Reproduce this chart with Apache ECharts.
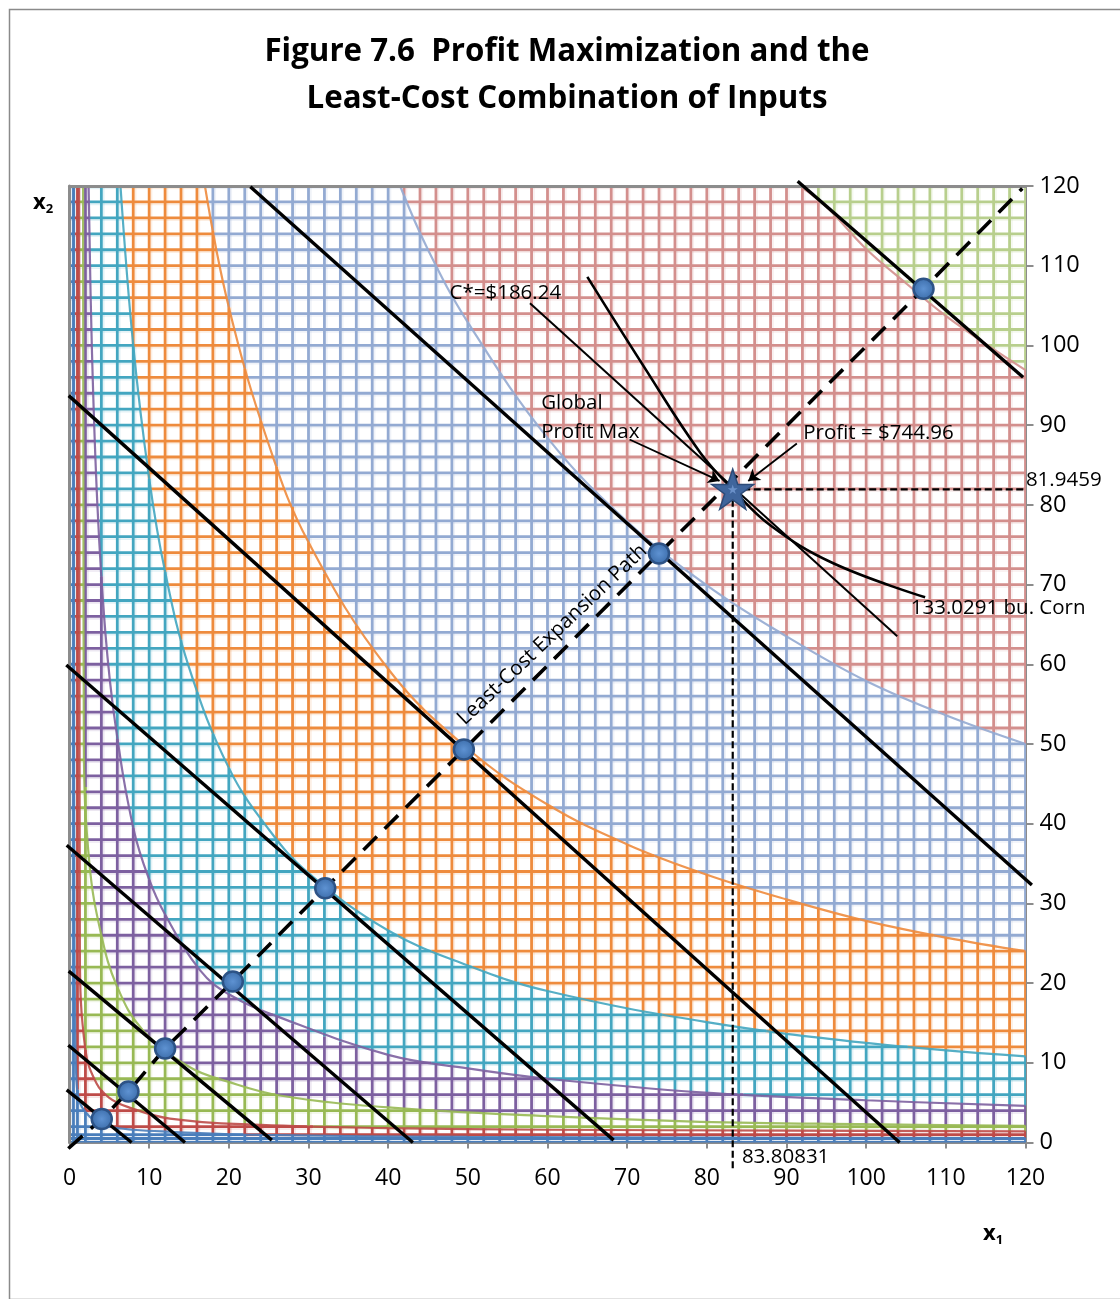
<!DOCTYPE html>
<html><head><meta charset="utf-8">
<script src="https://cdn.jsdelivr.net/npm/echarts/dist/echarts.min.js"></script>
<style>html,body{margin:0;padding:0;background:#fff}#c{width:1120px;height:1299px}</style>
</head><body><div id="c"></div>
<script>
// ---------------- DATA ----------------
const titleText = 'Figure 7.6  Profit Maximization and the\nLeast-Cost Combination of Inputs';
const meshLines = [0,0.5,1,2,4,6,8,10,12,14,16,18,20,22,24,26,28,30,32,34,36,38,40,42,44,46,48,50,52,54,56,58,60,62,64,66,68,70,72,74,76,78,80,82,84,86,88,90,92,94,96,98,100,102,104,106,108,110,112,114,116,118,120];

// isoquant (contour) boundaries, lowest to highest, as [x1, x2] points
const isoquant1 = [[0.55,120],[0.56,60],[0.6,30],[0.7,15],[0.9,7.4],[1.3,5],[2.1,3.7],[3,2.9],[5.1,2.0],[8,1.6],[12.6,1.35],[24,0.95],[50,0.7],[80,0.6],[120,0.55]];
const isoquant2 = [[1.2,120],[1.25,60],[1.3,24],[2.0,11.6],[3.4,7.4],[5,5.6],[7.2,4.5],[12.6,3.0],[24,2.2],[40,1.8],[60,1.6],[90,1.5],[120,1.4]];
const isoquant3 = [[1.7,120],[1.75,80],[1.8,50],[2.5,35],[4,26],[6,19.5],[9.2,14.1],[15,9.5],[20,7.6],[26.4,5.9],[40,4.4],[60,3.3],[79.2,2.6],[100,2.3],[120,2.1]];
const isoquant4 = [[2.4,120],[2.8,100],[3.5,80],[4.5,64],[5.7,52.9],[8,39.5],[10,33],[12,28.6],[16.4,21.6],[20,18.6],[26.4,15.7],[40,11],[50,9.3],[60,8.0],[79.2,6.3],[100,5.3],[120,4.6]];
const isoquant5 = [[6.4,120],[8,100],[10,83.3],[12,71.6],[15,59.6],[20,47],[25,39.3],[30,33.8],[40,26.6],[50,22.2],[60,19],[80,15.1],[100,12.5],[120,10.8]];
const isoquant6 = [[17,120],[20,104.8],[25,87.6],[30,75.3],[40,59.4],[50,49.4],[60,42.4],[70,37.4],[80,33.6],[90,30.5],[100,27.8],[110,25.7],[120,24]];
const isoquant7 = [[41.5,120],[45,112],[50,102.9],[60,88.4],[70,77.9],[80,69.9],[90,63.5],[100,57.9],[110,53.6],[120,50]];
const isoquant8 = [[91.7,120],[95,117.4],[100,112.1],[105,107.8],[110,103.7],[115,100.2],[120,96.9]];
const isoquants = [isoquant1,isoquant2,isoquant3,isoquant4,isoquant5,isoquant6,isoquant7,isoquant8];

// isocost lines (endpoints)
const isocostLines = [
  [[-0.35,6.6],[7.8,0]],
  [[-0.15,12.2],[14.5,0]],
  [[-0.1,21.5],[25.4,0.3]],
  [[-0.35,37.3],[43.1,0]],
  [[-0.4,59.9],[68.3,0.3]],
  [[-0.1,93.7],[104.2,0]],
  [[22.7,119.9],[120.8,32.3]],
  [[91.4,120.6],[119.7,96.0]]
];
// least-cost combinations on the expansion path
const leastCostPoints = [[4.05,2.95],[7.4,6.4],[12.0,11.8],[20.5,20.2],[32.1,31.9],[49.5,49.3],[74.0,73.9],[107.2,107.1]];
const expansionPath = [[-0.15,-0.75],[4.05,2.95],[7.4,6.4],[12.0,11.8],[20.5,20.2],[32.1,31.9],[49.5,49.3],[74.0,73.9],[107.2,107.1],[119.6,119.7]];
const profitMax = [83.25,81.95];
const profitMaxDropX = [[83.25,81.95],[83.25,-3.3]];
const profitMaxDropY = [[83.25,81.95],[120.1,81.95]];
const costStarLine = [[57.8,105.3],[103.9,63.5]];
const isoquantStar = [[65.0,108.6],[72.0,97.5],[79.2,86.5],[83.25,81.95],[88,77.4],[95.8,72.7],[107.4,68.4]];
const arrowGlobal = [[70.3,88.2],[81.6,83.0]];
const arrowProfit = [[91.3,87.7],[85.2,83.0]];
const annotationTexts = ['C*=$186.24','Global','Profit Max','Profit = $744.96','81.9459','133.0291 bu. Corn','83.80831'];
const annotationPos = [[47.7,106.5],[59.2,92.7],[59.2,89.1],[92.1,89.0],[120.05,83.1],[105.6,67.1],[84.4,-1.9]];
const pathLabelText = 'Least-Cost Expansion Path';
const pathLabelPos = [60.6,63.7];

// ---------------- STYLE ----------------
const FONT = "'Open Sans', 'Liberation Sans', sans-serif";
const bandColors = ['#4A7EBB','#BE4B48','#98B954','#7D60A0','#43A6C0','#EE8B3D','#93AAD2','#D38F8D','#B8CF8D'];
const AXIS_GRAY = '#8C8C8C';

// ---------------- helpers ----------------
function isAbove(c, x, y) {
  if (x <= 0 || y <= 0) return false;
  const n = c.length;
  if (x < c[0][0]) return false;
  if (x >= c[n-1][0]) return y > c[n-1][1];
  for (let i = 0; i < n-1; i++) {
    const x0 = c[i][0], y0 = c[i][1], x1 = c[i+1][0], y1 = c[i+1][1];
    if (x <= x1) {
      const t = (Math.log(x) - Math.log(x0)) / (Math.log(x1) - Math.log(x0));
      const ly = Math.log(y0) + t * (Math.log(y1) - Math.log(y0));
      return Math.log(y) > ly;
    }
  }
  return false;
}
function bandAt(x, y) {
  let b = 0;
  for (let i = 0; i < isoquants.length; i++) if (isAbove(isoquants[i], x, y)) b++;
  return b;
}
const sampleTs = [];
for (let i = 0; i < 300; i++) sampleTs.push(i * 0.01);
for (let i = 60; i <= 2400; i++) sampleTs.push(i * 0.05);

function runsAlong(fixed, horiz) {
  const pt = t => horiz ? bandAt(t, fixed) : bandAt(fixed, t);
  const runs = [];
  let start = sampleTs[0], prevT = sampleTs[0], prevB = pt(prevT);
  for (let k = 1; k < sampleTs.length; k++) {
    const t = sampleTs[k];
    const b = pt(t);
    if (b !== prevB) {
      let lo = prevT, hi = t;
      for (let it = 0; it < 22; it++) { const m = (lo + hi) / 2; if (pt(m) === prevB) lo = m; else hi = m; }
      runs.push([start, lo, prevB]);
      start = lo; prevB = b;
    }
    prevT = t;
  }
  runs.push([start, 120, prevB]);
  return runs;
}
const allRuns = [];
meshLines.forEach(m => {
  runsAlong(m, true).forEach(r => allRuns.push({h: true, f: m, a: r[0], b: r[1], band: r[2]}));
  runsAlong(m, false).forEach(r => allRuns.push({h: false, f: m, a: r[0], b: r[1], band: r[2]}));
});

function gridRender(params, api) {
  const halos = [], mains = [];
  allRuns.forEach(r => {
    const p0 = api.coord(r.h ? [r.a, r.f] : [r.f, r.a]);
    const p1 = api.coord(r.h ? [r.b, r.f] : [r.f, r.b]);
    const col = bandColors[r.band];
    const dx = r.h ? 0 : 2.4, dy = r.h ? 2.4 : 0;
    halos.push({type: 'line', shape: {x1: p0[0]+dx, y1: p0[1]+dy, x2: p1[0]+dx, y2: p1[1]+dy}, style: {stroke: col, lineWidth: 1.6, opacity: 0.15}});
    mains.push({type: 'line', shape: {x1: p0[0], y1: p0[1], x2: p1[0], y2: p1[1]}, style: {stroke: col, lineWidth: 2.8}});
  });
  return {type: 'group', children: halos.concat(mains)};
}

const starPath = 'path://M50,0 L61.8,35.1 L98.9,35.1 L68.9,56.8 L80.3,91.9 L50,70.2 L19.7,91.9 L31.1,56.8 L1.1,35.1 L38.2,35.1 Z';

const series = [];
series.push({type: 'custom', name: 'mesh', renderItem: gridRender, data: [[0,0]], z: 2, silent: true, clip: true});
isoquants.forEach((c, i) => series.push({
  type: 'line', data: c, smooth: 0.4, symbol: 'none', z: 3, silent: true,
  lineStyle: {color: bandColors[i], width: 2.2, opacity: 0.9}
}));
series.push({type: 'lines', coordinateSystem: 'cartesian2d', z: 6, silent: true, clip: false,
  data: isocostLines.map(l => ({coords: l})), lineStyle: {color: '#000', width: 3.4, opacity: 1}, symbol: 'none'});
series.push({type: 'line', data: expansionPath, symbol: 'none', z: 7, silent: true, clip: false,
  lineStyle: {color: '#000', width: 3.6, type: [19, 11]}});
series.push({type: 'line', data: profitMaxDropX, symbol: 'none', z: 7, silent: true, clip: false,
  lineStyle: {color: '#000', width: 2.2, type: [7, 3.5]}});
series.push({type: 'line', data: profitMaxDropY, symbol: 'none', z: 7, silent: true, clip: false,
  lineStyle: {color: '#000', width: 2.2, type: [7, 3.5]}});
series.push({type: 'line', data: costStarLine, symbol: 'none', z: 7, silent: true,
  lineStyle: {color: '#000', width: 2}});
series.push({type: 'line', data: isoquantStar, smooth: 0.4, symbol: 'none', z: 7, silent: true,
  lineStyle: {color: '#000', width: 2.6}});
series.push({type: 'lines', coordinateSystem: 'cartesian2d', z: 7, silent: true,
  data: [{coords: arrowGlobal}, {coords: arrowProfit}], symbol: ['none', 'arrow'], symbolSize: 11,
  lineStyle: {color: '#000', width: 1.8, opacity: 1}});
series.push({type: 'scatter', data: leastCostPoints, symbol: 'circle', symbolSize: 20, z: 8, silent: true,
  itemStyle: {color: {type: 'radial', x: 0.5, y: 0.5, r: 0.5, colorStops: [{offset: 0, color: '#5E92D2'}, {offset: 1, color: '#3C6DAA'}]},
    borderColor: '#2D5386', borderWidth: 2.5, opacity: 1}});
series.push({type: 'scatter', data: [profitMax], symbol: starPath, symbolSize: [42, 40], z: 9, silent: true,
  itemStyle: {color: '#3F659C', borderColor: '#2C4B78', borderWidth: 1.5, opacity: 1}});
series.push({type: 'scatter', data: [profitMax], symbol: starPath, symbolSize: [10, 9.5], z: 9, silent: true,
  itemStyle: {color: '#6A90C8', opacity: 1}});
series.push({type: 'scatter', z: 10, silent: true, symbolSize: 0, clip: false, itemStyle: {opacity: 1},
  data: annotationPos.map((p, i) => ({value: p, name: annotationTexts[i]})),
  label: {show: true, position: 'right', distance: 0, formatter: p => p.name, color: '#000', opacity: 1, fontSize: 20.5, fontFamily: FONT}});
series.push({type: 'scatter', z: 10, silent: true, symbolSize: 0, clip: false, itemStyle: {opacity: 1},
  data: [{value: pathLabelPos, name: pathLabelText}],
  label: {show: true, position: 'inside', rotate: 43.5, formatter: p => p.name, color: '#000', opacity: 1, fontSize: 20.5, fontFamily: FONT}});

const option = {
  animation: false,
  backgroundColor: '#fff',
  title: {text: titleText, left: 562, top: 24, textAlign: 'center',
    textStyle: {fontFamily: FONT, fontWeight: 'bold', fontSize: 31.3, lineHeight: 47, color: '#000'}},
  grid: {left: 69.5, top: 186, width: 956, height: 956.5, containLabel: false},
  xAxis: [
    {type: 'value', min: 0, max: 120, interval: 10, position: 'bottom', z: 1,
      axisLine: {show: true, onZero: false, lineStyle: {color: AXIS_GRAY, width: 2}},
      axisTick: {show: true, length: 6, lineStyle: {color: AXIS_GRAY, width: 2}},
      axisLabel: {fontSize: 23, color: '#000', margin: 24, fontFamily: FONT},
      splitLine: {show: false}},
    {type: 'value', min: 0, max: 120, position: 'top', z: 5,
      axisLine: {show: true, onZero: false, lineStyle: {color: AXIS_GRAY, width: 3}},
      axisTick: {show: false}, axisLabel: {show: false}, splitLine: {show: false}}
  ],
  yAxis: [
    {type: 'value', min: 0, max: 120, interval: 10, position: 'right', z: 1,
      axisLine: {show: true, onZero: false, lineStyle: {color: AXIS_GRAY, width: 2}},
      axisTick: {show: true, length: 8, lineStyle: {color: AXIS_GRAY, width: 2}},
      axisLabel: {fontSize: 23.5, color: '#000', margin: 14, fontFamily: FONT},
      splitLine: {show: false}},
    {type: 'value', min: 0, max: 120, position: 'left', z: 5,
      axisLine: {show: true, onZero: false, lineStyle: {color: AXIS_GRAY, width: 3}},
      axisTick: {show: false}, axisLabel: {show: false}, splitLine: {show: false}}
  ],
  graphic: [
    {type: 'rect', left: 7, top: 7, z: 0, shape: {width: 1120, height: 1290}, style: {fill: 'none', stroke: '#8A8A8A', lineWidth: 1.5}},
    {type: 'text', left: 33, top: 192, z: 20, style: {text: '{a|x}{b|2}', rich: {a: {fontSize: 22, fontWeight: 'bold', fontFamily: FONT, fill: '#000'}, b: {fontSize: 13, fontWeight: 'bold', fontFamily: FONT, fill: '#000', padding: [12, 0, 0, 0]}}}},
    {type: 'text', left: 983, top: 1223, z: 20, style: {text: '{a|x}{b|1}', rich: {a: {fontSize: 22, fontWeight: 'bold', fontFamily: FONT, fill: '#000'}, b: {fontSize: 13, fontWeight: 'bold', fontFamily: FONT, fill: '#000', padding: [12, 0, 0, 0]}}}}
  ],
  series: series
};
const chart = echarts.init(document.getElementById('c'), null, {renderer: 'canvas'});
chart.setOption(option);
</script></body></html>
